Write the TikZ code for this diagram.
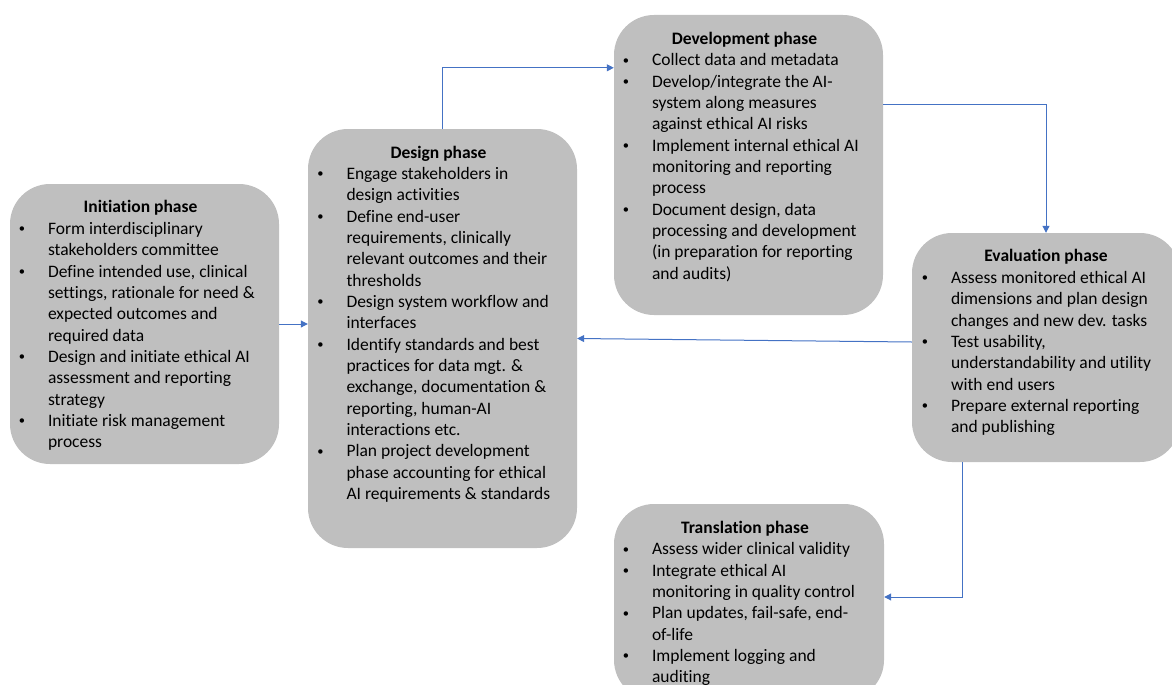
\documentclass[tikz,border=0pt]{standalone}
\usepackage{fontspec}
\setmainfont{Carlito}[Ligatures=NoCommon]
\usepackage{array}
\usetikzlibrary{arrows.meta}
\definecolor{boxgray}{HTML}{BFBFBF}
\definecolor{flowblue}{HTML}{4472C4}
\newcommand{\bitem}{\makebox[0pt]{\raisebox{1.8pt}{\fontsize{12.5}{12.5}\selectfont\textbullet}}}
\newenvironment{phaselines}{\begin{tabular}[t]{@{}p{26pt}@{}l@{}}}{\end{tabular}}

\begin{document}
\begin{tikzpicture}[x=1pt,y=-1pt,
    font=\fontsize{17.5}{21.35}\selectfont,
    phase/.style={fill=boxgray, rounded corners=40pt, inner sep=0pt},
    phasetitle/.style={font=\fontsize{17.5}{21.35}\selectfont\bfseries, anchor=base, inner sep=0pt},
    phaselist/.style={anchor=base west, inner sep=0pt},
    flow/.style={draw=flowblue, line width=1pt, -{Triangle[length=7pt,width=7pt]}}]
    \useasboundingbox (0,0) rectangle (1172,685);
    \clip (0,0) rectangle (1172,685);

    % phase boxes
    \node[phase, minimum width=269pt, minimum height=280pt] (init)  at (144.5,324) {};
    \node[phase, minimum width=269pt, minimum height=419pt] (design) at (442.5,338.5) {};
    \node[phase, minimum width=269pt, minimum height=300pt] (dev)   at (748.5,165) {};
    \node[phase, minimum width=268pt, minimum height=229pt] (eval)  at (1046,347.5) {};
    \node[phase, minimum width=270pt, minimum height=196pt] (trans) at (749,602) {};

    % titles
    \node[phasetitle] (initT)   at ([xshift=-4pt,yshift=-29pt]init.north)   {Initiation phase};
    \node[phasetitle] (designT) at ([xshift=-4pt,yshift=-29.5pt]design.north) {Design phase};
    \node[phasetitle] (devT)    at ([xshift=-4pt,yshift=-29.5pt]dev.north)    {Development phase};
    \node[phasetitle] (evalT)   at ([yshift=-29pt]eval.north)               {Evaluation phase};
    \node[phasetitle] (transT)  at ([xshift=-4pt,yshift=-29.5pt]trans.north)  {Translation phase};

    % bullet lists
    \node[phaselist] (initL) at ([xshift=12pt,yshift=-50.5pt]init.north west) {\begin{phaselines}
        \bitem & Form interdisciplinary\\
               & stakeholders committee\\
        \bitem & Define intended use, clinical\\
               & settings, rationale for need \&\\
               & expected outcomes and\\
               & required data\\
        \bitem & Design and initiate ethical AI\\
               & assessment and reporting\\
               & strategy\\
        \bitem & Initiate risk management\\
               & process
    \end{phaselines}};
    \node[phaselist] (designL) at ([xshift=12.5pt,yshift=-50.5pt]design.north west) {\begin{phaselines}
        \bitem & Engage stakeholders in\\
               & design activities\\
        \bitem & Define end-user\\
               & requirements, clinically\\
               & relevant outcomes and their\\
               & thresholds\\
        \bitem & Design system workflow and\\
               & interfaces\\
        \bitem & Identify standards and best\\
               & practices for data mgt. \&\\
               & exchange, documentation \&\\
               & reporting, human-AI\\
               & interactions etc.\\
        \bitem & Plan project development\\
               & phase accounting for ethical\\
               & AI requirements \& standards
    \end{phaselines}};
    \node[phaselist] (devL) at ([xshift=12pt,yshift=-51pt]dev.north west) {\begin{phaselines}
        \bitem & Collect data and metadata\\
        \bitem & Develop/integrate the AI-\\
               & system along measures\\
               & against ethical AI risks\\
        \bitem & Implement internal ethical AI\\
               & monitoring and reporting\\
               & process\\
        \bitem & Document design, data\\
               & processing and development\\
               & (in preparation for reporting\\
               & and audits)
    \end{phaselines}};
    \node[phaselist] (evalL) at ([xshift=13pt,yshift=-50.5pt]eval.north west) {\begin{phaselines}
        \bitem & Assess monitored ethical AI\\
               & dimensions and plan design\\
               & changes and new dev. tasks\\
        \bitem & Test usability,\\
               & understandability and utility\\
               & with end users\\
        \bitem & Prepare external reporting\\
               & and publishing
    \end{phaselines}};
    \node[phaselist] (transL) at ([xshift=12pt,yshift=-51pt]trans.north west) {\begin{phaselines}
        \bitem & Assess wider clinical validity\\
        \bitem & Integrate ethical AI\\
               & monitoring in quality control\\
        \bitem & Plan updates, fail-safe, end-\\
               & of-life\\
        \bitem & Implement logging and\\
               & auditing
    \end{phaselines}};

    % connectors
    \draw[flow] (init.east) -- (init.east -| design.west);
    \draw[flow] (design.north) |- ([yshift=-53pt]dev.north west);
    \draw[flow] ([yshift=-90pt]dev.north east) -| (eval.north);
    \draw[flow] ([yshift=5.5pt]eval.west) -- (design.east);
    \draw[flow] ([xshift=51pt]eval.south west) |- ([yshift=5pt]trans.east);
\end{tikzpicture}
\end{document}
